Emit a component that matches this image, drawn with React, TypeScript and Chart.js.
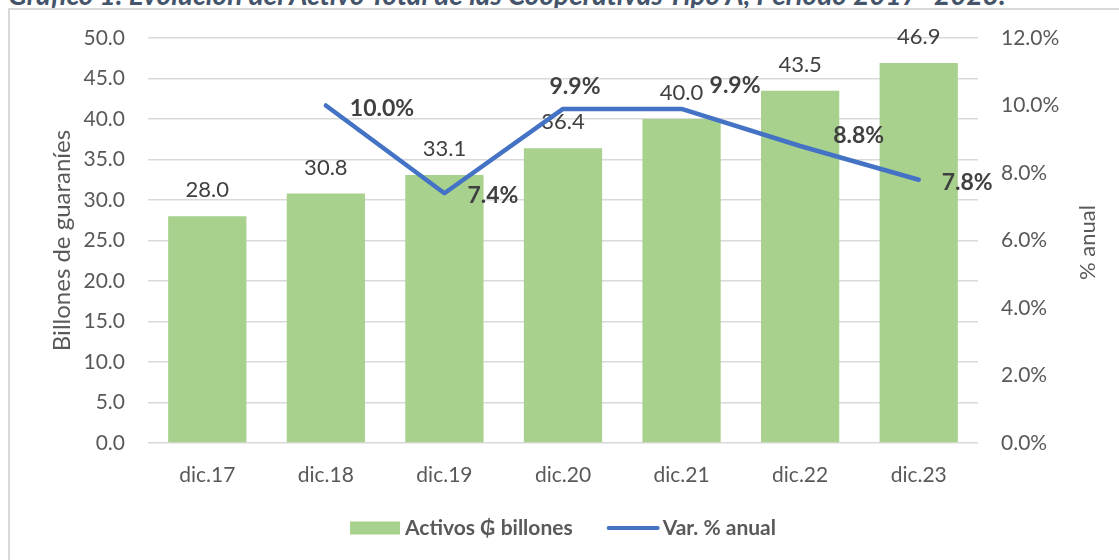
import { useEffect, useRef } from "react";
import { Chart, registerables } from "chart.js";

Chart.register(...registerables);

const chartTitle =
  "Gráfico 1. Evolución del Activo Total de las Cooperativas Tipo A, Período 2017- 2023.";
const categories = ["dic.17", "dic.18", "dic.19", "dic.20", "dic.21", "dic.22", "dic.23"];
const activos = [28.0, 30.8, 33.1, 36.4, 40.0, 43.5, 46.9];
const variacion: (number | null)[] = [null, 10.0, 7.4, 9.9, 9.9, 8.8, 7.8];
const seriesNames = ["Activos ₲ billones", "Var. % anual"];
const leftAxisTitle = "Billones de guaraníes";
const rightAxisTitle = "% anual";
const leftMax = 50;
const leftStep = 5;
const rightMax = 12;
const rightStep = 2;

// label placement styles for line labels (relative offsets, not data)
const lineLabelPlacement = [
  { align: "left", dx: 0, dy: 0 },
  { align: "left", dx: 24, dy: 3 },
  { align: "left", dx: 23, dy: 2 },
  { align: "center", dx: 12, dy: -22 },
  { align: "left", dx: 28, dy: -23 },
  { align: "left", dx: 33, dy: -10 },
  { align: "left", dx: 23, dy: 3 },
];

const FONT = "Lato, 'Open Sans', sans-serif";
const GREEN = "#A9D18E";
const BLUE = "#4472C4";
const TEXT = "#595959";
const DARK = "#404040";

const labelsPlugin = {
  id: "customLabels",
  afterDatasetDraw(chart: any, args: any) {
    if (args.meta.type !== "bar") return;
    const ctx = chart.ctx;
    ctx.save();
    ctx.font = `22px ${FONT}`;
    ctx.fillStyle = DARK;
    ctx.textAlign = "center";
    ctx.textBaseline = "middle";
    args.meta.data.forEach((el: any, i: number) => {
      ctx.fillText(activos[i].toFixed(1), el.x, el.y - 26);
    });
    ctx.restore();
  },
  afterDatasetsDraw(chart: any) {
    const ctx = chart.ctx;
    const area = chart.chartArea;
    ctx.save();
    // line labels
    const lineMeta = chart.getDatasetMeta(1);
    ctx.font = `bold 23px ${FONT}`;
    ctx.fillStyle = DARK;
    ctx.textBaseline = "middle";
    lineMeta.data.forEach((el: any, i: number) => {
      const v = variacion[i];
      if (v == null) return;
      const p = lineLabelPlacement[i];
      ctx.textAlign = p.align;
      ctx.fillText(v.toFixed(1) + "%", el.x + p.dx, el.y + p.dy);
    });

    // axis titles
    const midY = (area.top + area.bottom) / 2;
    ctx.fillStyle = TEXT;
    ctx.textAlign = "center";
    ctx.textBaseline = "middle";
    ctx.save();
    ctx.font = `24px ${FONT}`;
    ctx.translate(62, midY);
    ctx.rotate(-Math.PI / 2);
    ctx.fillText(leftAxisTitle, 0, 0);
    ctx.restore();
    ctx.save();
    ctx.font = `22px ${FONT}`;
    ctx.translate(1088, midY + 2);
    ctx.rotate(-Math.PI / 2);
    ctx.fillText(rightAxisTitle, 0, 0);
    ctx.restore();

    // legend
    ctx.font = `bold 21px ${FONT}`;
    ctx.fillStyle = TEXT;
    ctx.textAlign = "left";
    ctx.textBaseline = "middle";
    const w1 = ctx.measureText(seriesNames[0]).width;
    const w2 = ctx.measureText(seriesNames[1]).width;
    const boxW = 50;
    const lineW = 53;
    const total = boxW + 5 + w1 + 34 + lineW + 3 + w2;
    let x = (area.left + area.right) / 2 - total / 2;
    const ly = 528;
    ctx.fillStyle = GREEN;
    ctx.fillRect(x, ly - 6.5, boxW, 13);
    x += boxW + 5;
    ctx.fillStyle = TEXT;
    ctx.fillText(seriesNames[0], x, ly);
    x += w1 + 34;
    ctx.strokeStyle = BLUE;
    ctx.lineWidth = 4;
    ctx.lineCap = "round";
    ctx.beginPath();
    ctx.moveTo(x + 2, ly);
    ctx.lineTo(x + lineW - 2, ly);
    ctx.stroke();
    x += lineW + 3;
    ctx.fillText(seriesNames[1], x, ly);
    ctx.restore();
  },
};

export default function App() {
  const canvasRef = useRef<HTMLCanvasElement | null>(null);

  useEffect(() => {
    if (!canvasRef.current) return;
    const chart = new Chart(canvasRef.current, {
      type: "bar",
      data: {
        labels: categories,
        datasets: [
          {
            type: "bar",
            label: seriesNames[0],
            data: activos,
            backgroundColor: GREEN,
            borderWidth: 0,
            yAxisID: "y",
            order: 1,
            barPercentage: 0.66,
            categoryPercentage: 1,
          },
          {
            type: "line",
            label: seriesNames[1],
            data: variacion,
            borderColor: BLUE,
            backgroundColor: BLUE,
            borderWidth: 4.5,
            pointRadius: 0,
            pointHoverRadius: 0,
            tension: 0,
            borderJoinStyle: "round",
            borderCapStyle: "round",
            yAxisID: "y1",
            order: 0,
          } as any,
        ],
      },
      options: {
        responsive: false,
        animation: false,
        layout: { padding: { top: 38, bottom: 0, left: 0, right: 0 } },
        plugins: {
          legend: { display: false },
          title: { display: false },
          tooltip: { enabled: false },
        },
        scales: {
          x: {
            offset: true,
            grid: { display: false, drawTicks: false },
            border: { display: false },
            ticks: {
              color: TEXT,
              font: { family: FONT, size: 21 },
              padding: 20,
            },
            afterFit: (s: any) => {
              s.height = 117;
            },
          },
          y: {
            position: "left",
            min: 0,
            max: leftMax,
            grid: { color: "#D9D9D9", lineWidth: 1.5, drawTicks: false },
            border: { display: false },
            ticks: {
              stepSize: leftStep,
              color: TEXT,
              font: { family: FONT, size: 21 },
              padding: 23,
              callback: (v: any) => Number(v).toFixed(1),
            },
            afterFit: (s: any) => {
              s.width = 148;
            },
          },
          y1: {
            position: "right",
            min: 0,
            max: rightMax,
            grid: { display: false, drawTicks: false },
            border: { display: false },
            ticks: {
              stepSize: rightStep,
              color: TEXT,
              font: { family: FONT, size: 21 },
              padding: 23,
              callback: (v: any) => Number(v).toFixed(1) + "%",
            },
            afterFit: (s: any) => {
              s.width = 141;
            },
          },
        },
      },
      plugins: [labelsPlugin],
    } as any);
    return () => chart.destroy();
  }, []);

  return (
    <div
      style={{
        position: "fixed",
        left: 0,
        top: 0,
        width: 1119,
        height: 560,
        overflow: "hidden",
        background: "#ffffff",
      }}
    >
      <div
        style={{
          position: "absolute",
          left: 8,
          top: -20,
          font: `italic bold 28px ${FONT}`,
          lineHeight: "28px",
          color: "#44546A",
          whiteSpace: "nowrap",
        }}
      >
        {chartTitle}
      </div>
      <div
        style={{
          position: "absolute",
          left: 8,
          top: 8,
          width: 1200,
          height: 600,
          border: "2px solid #D9D9D9",
        }}
      />
      <canvas
        ref={canvasRef}
        width={1119}
        height={560}
        style={{ position: "absolute", left: 0, top: 0 }}
      />
    </div>
  );
}
